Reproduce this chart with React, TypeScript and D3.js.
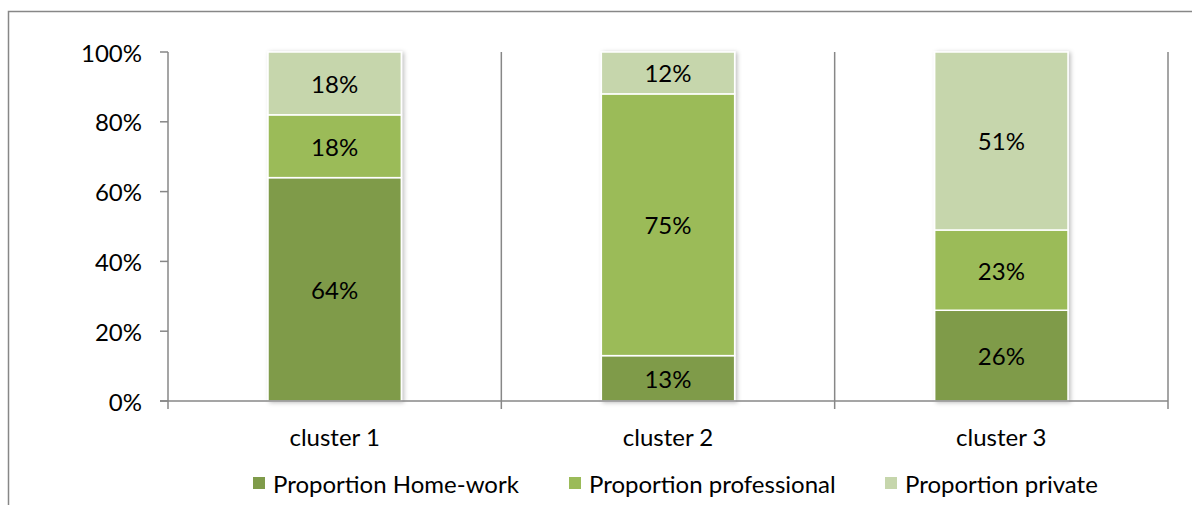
import React from "react";
import * as d3 from "d3";

const categories = ["cluster 1", "cluster 2", "cluster 3"];
const seriesNames = ["Proportion Home-work", "Proportion professional", "Proportion private"];
const homeWork = [64, 13, 26];
const professional = [18, 75, 23];
const privateP = [18, 12, 51];
const yTicks = [0, 20, 40, 60, 80, 100];
const colors = ["#7F9B4A", "#9BBB59", "#C6D6AC"];

const W = 1192;
const H = 505;
const FONT = "Lato, 'Open Sans', sans-serif";

export default function App() {
  const left = 168, right = 1168, top = 52, bottom = 401;
  const x = d3.scaleBand<string>().domain(categories).range([left, right]).paddingInner(0.6).paddingOuter(0.3);
  // custom: Excel gap width 150% -> bar width = step/2.5
  const step = (right - left) / categories.length;
  const barW = step / 2.5;
  const cx = (i: number) => left + step * i + step / 2;
  const y = d3.scaleLinear().domain([0, 100]).range([bottom, top]);

  const rows = categories.map((c, i) => ({ c, v: [homeWork[i], professional[i], privateP[i]] }));
  const stack = d3.stack<any>().keys(["0", "1", "2"]).value((d, k) => d.v[+k]);
  const stacked = stack(rows);

  const axisColor = "#878787";
  const legendItems = [
    { name: seriesNames[0], x: 253 },
    { name: seriesNames[1], x: 569 },
    { name: seriesNames[2], x: 885 },
  ];

  return (
    <svg width={W} height={H} style={{ position: "absolute", left: 0, top: 0, background: "#fff" }} fontFamily={FONT}>
      <defs>
        <filter id="sh" x="-10%" y="-10%" width="130%" height="130%">
          <feDropShadow dx="2" dy="1" stdDeviation="2" floodColor="#000" floodOpacity="0.25" />
        </filter>
      </defs>
      <rect x={8.5} y={11.5} width={W + 20} height={H + 20} fill="#fff" stroke={axisColor} strokeWidth={1.5} />
      {/* vertical grid lines at category boundaries */}
      {categories.map((c, i) => (
        <line key={c} x1={left + step * (i + 1)} x2={left + step * (i + 1)} y1={top} y2={bottom + 8} stroke={axisColor} strokeWidth={1.5} />
      ))}
      {/* bars */}
      {rows.map((r, i) => (
        <g key={r.c} filter="url(#sh)">
          {stacked.map((s, k) => {
            const d = s[i];
            return (
              <rect key={k} x={cx(i) - barW / 2} y={y(d[1])} width={barW} height={y(d[0]) - y(d[1])} fill={colors[k]} stroke="#fff" strokeWidth={1.5} />
            );
          })}
        </g>
      ))}
      {rows.map((r, i) =>
        stacked.map((s, k) => {
          const d = s[i];
          return (
            <text key={r.c + k} x={cx(i)} y={(y(d[0]) + y(d[1])) / 2} textAnchor="middle" dominantBaseline="central" fontSize={24} fill="#000">
              {r.v[k]}%
            </text>
          );
        })
      )}
      {/* y axis */}
      <line x1={left} x2={left} y1={top} y2={bottom + 8} stroke={axisColor} strokeWidth={1.5} />
      {yTicks.map((t) => (
        <g key={t}>
          <line x1={left - 8} x2={left} y1={y(t)} y2={y(t)} stroke={axisColor} strokeWidth={1.5} />
          <text x={142} y={y(t)} textAnchor="end" dominantBaseline="central" fontSize={24} fill="#000">
            {t}%
          </text>
        </g>
      ))}
      {/* x axis */}
      <line x1={left - 8} x2={right} y1={bottom} y2={bottom} stroke={axisColor} strokeWidth={1.5} />
      {categories.map((c, i) => (
        <text key={c} x={cx(i)} y={436} textAnchor="middle" dominantBaseline="central" fontSize={24} fill="#000">
          {c}
        </text>
      ))}
      {/* legend */}
      {legendItems.map((l, k) => (
        <g key={l.name}>
          <rect x={l.x} y={477} width={12} height={12} fill={colors[k]} />
          <text x={l.x + 20} y={483} dominantBaseline="central" fontSize={24} fill="#000">
            {l.name}
          </text>
        </g>
      ))}
    </svg>
  );
}
